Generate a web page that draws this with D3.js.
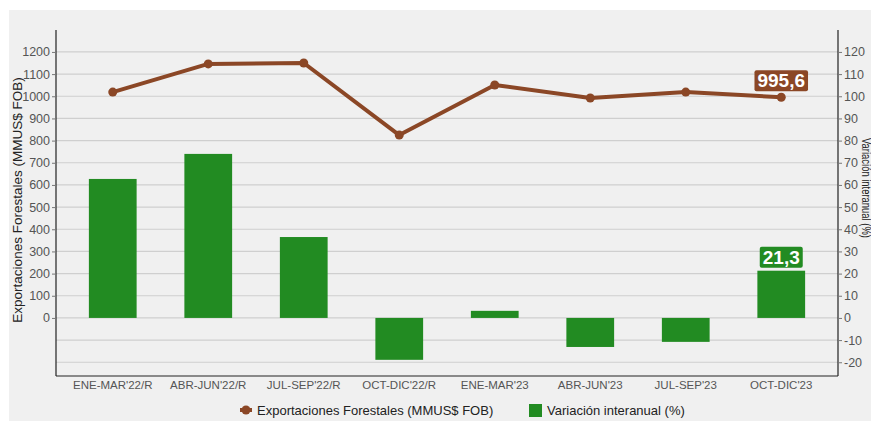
<!DOCTYPE html>
<html>
<head>
<meta charset="utf-8">
<script src="https://cdn.jsdelivr.net/npm/d3@7/dist/d3.min.js"></script>
<style>
  body { margin: 0; background: #fff; }
  svg { display: block; font-family: "Liberation Sans", Arial, sans-serif; }
</style>
</head>
<body>
<svg width="871" height="421"></svg>
<script>
// chart data
var categories = ["ENE-MAR'22/R", "ABR-JUN'22/R", "JUL-SEP'22/R", "OCT-DIC'22/R",
                  "ENE-MAR'23", "ABR-JUN'23", "JUL-SEP'23", "OCT-DIC'23"];
var exportaciones = [1019, 1146, 1150, 825, 1051, 992, 1019, 995.6];
var variacion = [62.7, 74.0, 36.5, -18.9, 3.2, -13.1, -10.8, 21.3];
var leftTicks = [0, 100, 200, 300, 400, 500, 600, 700, 800, 900, 1000, 1100, 1200];
var gridTicks = [-200, -100].concat(leftTicks);
var rightTicks = [-20, -10, 0, 10, 20, 30, 40, 50, 60, 70, 80, 90, 100, 110, 120];

var brown = "#8b4726",
    green = "#228b22";

var svg = d3.select("svg");

// panel background
svg.append("rect")
   .attr("x", 9).attr("y", 10)
   .attr("width", 862).attr("height", 411)
   .attr("fill", "#f0f0f0");

var plotLeft = 56, plotRight = 838, plotTop = 30, plotBottom = 376;

// scales
var xScale = d3.scaleBand()
               .domain(categories)
               .range([65, 829])
               .paddingInner(0.5)
               .paddingOuter(0.25);

var yLeft = d3.scaleLinear().domain([-262, 1299]).range([plotBottom, plotTop]);
var yRight = d3.scaleLinear().domain([-26.2, 129.9]).range([plotBottom, plotTop]);

// gridlines
svg.append("g")
   .selectAll("line")
   .data(gridTicks)
   .enter().append("line")
   .attr("x1", plotLeft).attr("x2", plotRight)
   .attr("y1", function(d) { return yLeft(d); })
   .attr("y2", function(d) { return yLeft(d); })
   .attr("stroke", "#cfcfcf")
   .attr("stroke-width", 1.2);

// bars
svg.append("g")
   .selectAll("rect")
   .data(variacion)
   .enter().append("rect")
   .attr("x", function(d, i) { return xScale(categories[i]); })
   .attr("width", xScale.bandwidth())
   .attr("y", function(d) { return yRight(Math.max(0, d)); })
   .attr("height", function(d) { return Math.abs(yRight(d) - yRight(0)); })
   .attr("fill", green);

// line
var line = d3.line()
             .x(function(d, i) { return xScale(categories[i]) + xScale.bandwidth() / 2; })
             .y(function(d) { return yLeft(d); });

svg.append("path")
   .datum(exportaciones)
   .attr("d", line)
   .attr("fill", "none")
   .attr("stroke", brown)
   .attr("stroke-width", 4)
   .attr("stroke-linejoin", "round");

svg.append("g")
   .selectAll("circle")
   .data(exportaciones)
   .enter().append("circle")
   .attr("cx", function(d, i) { return xScale(categories[i]) + xScale.bandwidth() / 2; })
   .attr("cy", function(d) { return yLeft(d); })
   .attr("r", 4.5)
   .attr("fill", brown);

// axes (plain integers, hyphen for negatives)
var fmt = function(d) { return String(d); };

var axisLeft = d3.axisLeft(yLeft).tickValues(leftTicks).tickFormat(fmt).tickSize(4).tickPadding(2);
var gl = svg.append("g")
            .attr("transform", "translate(" + plotLeft + ",0)")
            .call(axisLeft);

var axisRight = d3.axisRight(yRight).tickValues(rightTicks).tickFormat(fmt).tickSize(4).tickPadding(2);
var gr = svg.append("g")
            .attr("transform", "translate(" + plotRight + ",0)")
            .call(axisRight);

[gl, gr].forEach(function(g) {
    g.select(".domain").attr("d", "M0," + plotTop + "V" + plotBottom)
     .attr("stroke", "#222").attr("stroke-width", 1.2);
    g.selectAll(".tick line").attr("stroke", "#777");
    g.selectAll(".tick text")
     .attr("fill", "#555")
     .style("font-size", "12.5px")
     .style("font-family", "'Liberation Sans', Arial, sans-serif");
});

// bottom axis line
svg.append("line")
   .attr("x1", plotLeft).attr("x2", plotRight)
   .attr("y1", plotBottom).attr("y2", plotBottom)
   .attr("stroke", "#222")
   .attr("stroke-width", 1.2);

// category labels
svg.append("g")
   .selectAll("text")
   .data(categories)
   .enter().append("text")
   .attr("x", function(d) { return xScale(d) + xScale.bandwidth() / 2; })
   .attr("y", 389)
   .attr("text-anchor", "middle")
   .attr("fill", "#555")
   .style("font-size", "11.5px")
   .text(function(d) { return d; });

// axis titles
svg.append("text")
   .attr("transform", "translate(22,200) rotate(-90)")
   .attr("text-anchor", "middle")
   .attr("fill", "#222")
   .style("font-size", "13.5px")
   .text("Exportaciones Forestales (MMUS$ FOB)");

svg.append("text")
   .attr("transform", "translate(862,188) rotate(90)")
   .attr("text-anchor", "middle")
   .attr("fill", "#222")
   .style("font-size", "13.5px")
   .attr("textLength", 100)
   .attr("lengthAdjust", "spacingAndGlyphs")
   .text("Variación interanual (%)");

// value labels on last point
function addLabel(x, yBottom, txt, color) {
    var t = svg.append("text")
               .attr("x", x)
               .attr("y", yBottom - 4)
               .attr("text-anchor", "middle")
               .attr("fill", "#fff")
               .style("font-size", "19px")
               .style("font-weight", "bold")
               .text(txt);
    var b = t.node().getBBox();
    svg.insert("rect", function() { return t.node(); })
       .attr("x", b.x - 3)
       .attr("y", yBottom - 21)
       .attr("width", b.width + 6)
       .attr("height", 21)
       .attr("rx", 2)
       .attr("fill", color);
}

var last = categories.length - 1;
var lastX = xScale(categories[last]) + xScale.bandwidth() / 2;
addLabel(lastX, yLeft(exportaciones[last]) - 6, "995,6", brown);
addLabel(lastX, yRight(variacion[last]) - 3, "21,3", green);

// legend
var legend = svg.append("g").attr("transform", "translate(0,410)");
legend.append("line")
      .attr("x1", 240).attr("x2", 252)
      .attr("y1", 0).attr("y2", 0)
      .attr("stroke", brown).attr("stroke-width", 4);
legend.append("circle")
      .attr("cx", 246).attr("cy", 0).attr("r", 4.5)
      .attr("fill", brown);
legend.append("text")
      .attr("x", 257).attr("y", 5)
      .attr("fill", "#222")
      .style("font-size", "13px")
      .text("Exportaciones Forestales (MMUS$ FOB)");
legend.append("rect")
      .attr("x", 529).attr("y", -6)
      .attr("width", 13).attr("height", 13)
      .attr("fill", green);
legend.append("text")
      .attr("x", 547).attr("y", 5)
      .attr("fill", "#222")
      .style("font-size", "13px")
      .text("Variación interanual (%)");
</script>
</body>
</html>
